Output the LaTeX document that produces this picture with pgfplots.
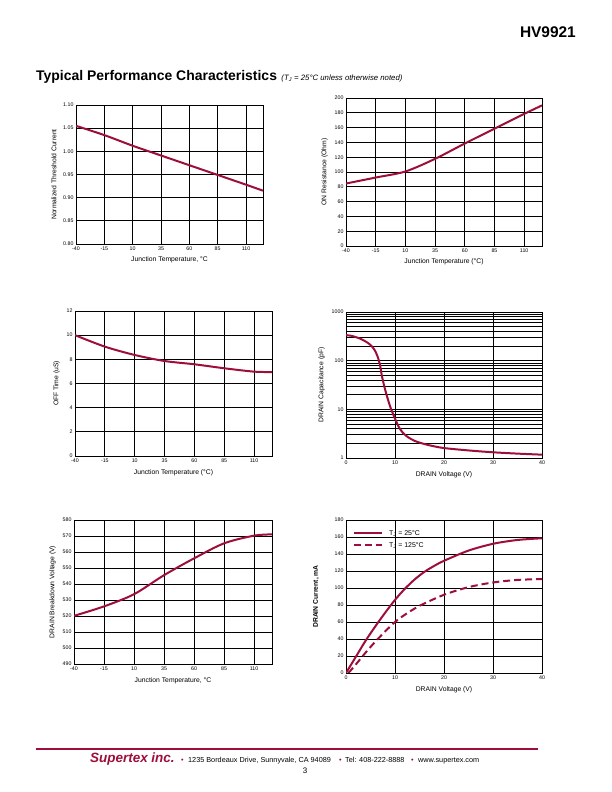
\documentclass[border=0pt]{standalone}
\usepackage{fontspec}
\setmainfont{Liberation Sans}
\usepackage{pgfplots}
\pgfplotsset{compat=1.18}
\definecolor{curve}{RGB}{158,14,58}
\pgfplotsset{
  hv/.style={
    scale only axis, anchor=south west,
    axis line style={black, line width=0.8pt},
    grid=major, major grid style={black, line width=0.8pt},
    minor grid style={black, line width=0.7pt},
    tick style={draw=none},
    ticklabel style={font=\fontsize{5.3}{6}\selectfont},
    label style={font=\fontsize{6.8}{8}\selectfont},
    /pgf/number format/assume math mode=true,
    xticklabel style={yshift=1pt},
    yticklabel style={xshift=1pt},
    clip=true,
  },
  temp/.style={xmin=-40,xmax=125, xtick={-40,-15,10,35,60,85,110}},
  crv/.style={curve, line width=2pt, smooth, no marks},
}
\begin{document}
\begin{tikzpicture}[x=1bp,y=1bp]
\fill[white] (0,0) rectangle (612,792);
% header
\node[anchor=base east, font=\bfseries\fontsize{15.5}{17}\selectfont, inner sep=0] at (576,792-38) {HV9921};
\node[anchor=base west, inner sep=0] at (36,792-81)
  {{\bfseries\fontsize{14}{16}\selectfont Typical Performance Characteristics}\,
   {\itshape\fontsize{7.8}{8}\selectfont (T\textsubscript{J} = 25°C unless otherwise noted)}};

% Plot 1
\begin{axis}[hv, temp, at={(76bp,548bp)}, width=187bp, height=139bp,
  ymin=0.80, ymax=1.10, ytick={0.80,0.85,...,1.101},
  yticklabel style={/pgf/number format/.cd, fixed, fixed zerofill, precision=2},
  xlabel={Junction Temperature, °C}, ylabel={Normalized Threshold Current}]
\addplot[crv] coordinates {(-40,1.055) (-15,1.035) (10,1.012) (35,0.991) (60,0.970) (85,0.949) (110,0.928) (125,0.915)};
\end{axis}

% Plot 2
\begin{axis}[hv, temp, at={(346bp,546bp)}, width=196bp, height=148bp,
  ymin=0, ymax=200, ytick={0,20,...,200},
  xlabel={Junction Temperature (°C)}, ylabel={ON Resistance (Ohm)}]
\addplot[crv] coordinates {(-40,84.4) (-15,92.5) (10,100.7) (35,117.8) (60,138.5) (85,158.5) (110,178.5) (125,190)};
\end{axis}

% Plot 3
\begin{axis}[hv, temp, at={(75bp,336bp)}, width=197bp, height=145bp,
  ymin=0, ymax=12, ytick={0,2,...,12},
  xlabel={Junction Temperature (°C)}, ylabel={OFF Time (uS)}]
\addplot[crv] coordinates {(-40,10.0) (-15,9.05) (10,8.36) (35,7.86) (60,7.59) (85,7.26) (110,6.98) (125,6.95)};
\end{axis}

% Plot 4
\begin{axis}[hv, at={(346bp,334bp)}, width=196bp, height=146bp,
  ymode=log, xmin=0, xmax=40, xtick={0,10,20,30,40},
  ymin=1, ymax=1000, ytick={1,10,100,1000}, yticklabels={1,10,100,1000},
  yminorgrids=true,
  xlabel={DRAIN Voltage (V)}, ylabel={DRAIN Capacitance (pF)}]
\addplot[crv] coordinates {(0,335) (1,325) (2,305) (3,280) (4,248) (5,210) (5.8,168) (6.4,125) (6.9,85) (7.3,50) (7.8,30) (8.4,18) (9,11.5) (9.6,8) (10.2,5.8) (10.8,4.3) (11.6,3.3) (12.6,2.7) (14,2.25) (15.5,2.0) (17.5,1.78) (20,1.6) (25,1.43) (30,1.31) (35,1.23) (40,1.17)};
\end{axis}

% Plot 5
\begin{axis}[hv, temp, at={(74bp,128bp)}, width=198bp, height=144bp,
  ymin=490, ymax=580, ytick={490,500,...,580},
  xlabel={Junction Temperature, °C}, ylabel={DRAIN Breakdown Voltage (V)}]
\addplot[crv] coordinates {(-40,520.1) (-15,526) (10,533.6) (35,545.5) (60,556) (85,565.4) (110,570.2) (125,571)};
\end{axis}

% Plot 6
\begin{axis}[hv, at={(346bp,119bp)}, width=196bp, height=153bp,
  xmin=0, xmax=40, xtick={0,10,20,30,40},
  ymin=0, ymax=180, ytick={0,20,...,180},
  xlabel={DRAIN Voltage (V)}, ylabel={\bfseries DRAIN Current, mA},
  ylabel style={yshift=9pt},
  legend style={draw=none, fill=none, at={(0.02,0.96)}, anchor=north west,
    font=\fontsize{7}{8}\selectfont, row sep=1.5pt,
    /tikz/every odd column/.append style={column sep=4pt}},
  legend cell align=left,
  legend image code/.code={\draw[#1, curve, line width=2pt] (0bp,0bp) -- (28bp,0bp);}]
\addplot[crv] coordinates {(0,0) (2,19) (4,38) (6,55) (8,71) (10,86) (12,99) (14,110) (16,119) (18,126) (20,132) (25,144) (30,152) (35,156.5) (40,158.5)};
\addlegendentry{T\textsubscript{J} = 25°C}
\addplot[crv, dash pattern=on 7pt off 4pt] coordinates {(0.5,0) (2,10) (4,24) (6,37) (8,49) (10,60) (12,68.5) (15,79) (20,92) (25,101) (30,106.5) (35,109.5) (40,110.5)};
\addlegendentry{T\textsubscript{J} = 125°C}
\end{axis}

% footer
\draw[curve, line width=1.3pt] (36,792-749) -- (538,792-749);
\node[anchor=base west, inner sep=0, text=curve, font=\bfseries\itshape\fontsize{13.5}{14}\selectfont] at (90,792-763) {Supertex inc.};
\begin{scope}[every node/.style={anchor=base west, inner sep=0, font=\fontsize{7.3}{8}\selectfont}]
\node[text=curve] at (181,792-763) {\textbullet};
\node at (188,792-763) {1235 Bordeaux Drive, Sunnyvale, CA 94089};
\node[text=curve] at (339,792-763) {\textbullet};
\node at (345,792-763) {Tel: 408-222-8888};
\node[text=curve] at (411,792-763) {\textbullet};
\node at (418,792-763) {www.supertex.com};
\end{scope}
\node[anchor=base, inner sep=0, font=\fontsize{8}{9}\selectfont] at (305,792-774) {3};
\end{tikzpicture}
\end{document}
